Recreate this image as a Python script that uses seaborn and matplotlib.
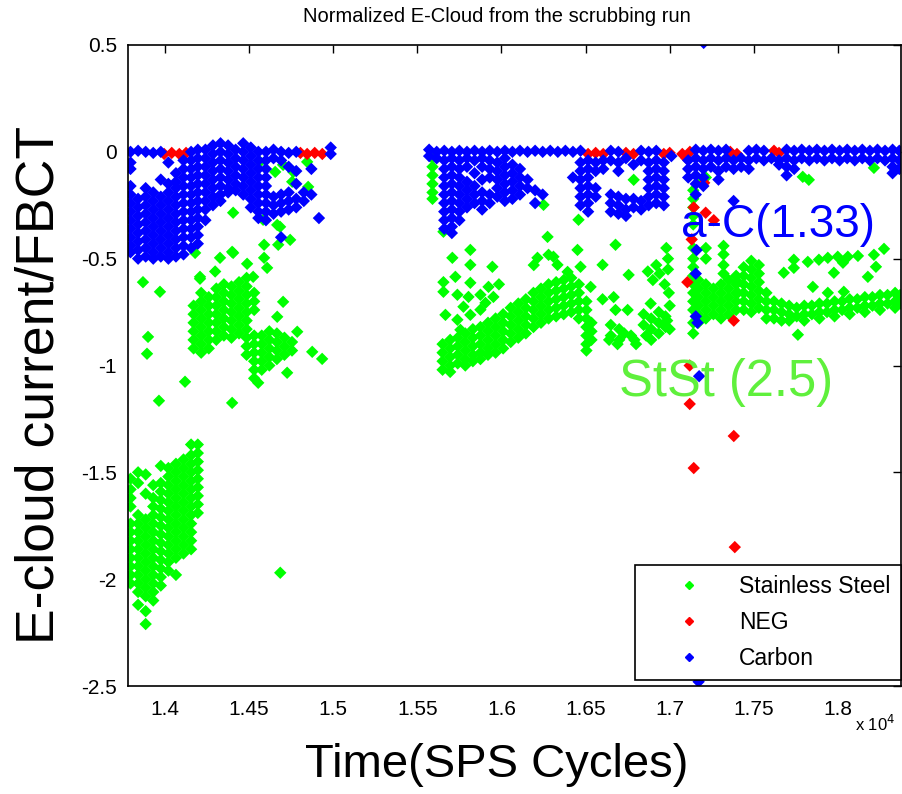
import matplotlib
matplotlib.use("Agg")
import matplotlib.pyplot as plt
from matplotlib.lines import Line2D
import seaborn as sns
import pandas as pd

# ---------------- data (SPS cycles, E-cloud current / FBCT) ----------------
series_names = ["Stainless Steel", "NEG", "Carbon"]
series_colors = ["#00ff00", "#ff0000", "#0000ff"]

x_ticks = [14000, 14500, 15000, 15500, 16000, 16500, 17000, 17500, 18000]
x_tick_labels = ["1.4", "1.45", "1.5", "1.55", "1.6", "1.65", "1.7", "1.75", "1.8"]
y_ticks = [0.5, 0, -0.5, -1, -1.5, -2, -2.5]
y_tick_labels = ["0.5", "0", "-0.5", "-1", "-1.5", "-2", "-2.5"]

# Stainless steel: lower-left cloud (columns: cycle -> values)
steel_low = [
    (13795, [-1.53, -1.58, -1.62, -1.66, -1.74, -1.78, -1.82, -1.86, -1.90, -1.94, -1.98, -2.02]),
    (13840, [-1.50, -1.55, -1.70, -1.74, -1.78, -1.82, -1.86, -1.90, -1.94, -1.98, -2.02, -2.06, -2.12]),
    (13885, [-1.51, -1.60, -1.72, -1.76, -1.80, -1.84, -1.88, -1.92, -1.96, -2.00, -2.04, -2.08, -2.15, -2.21]),
    (13930, [-1.56, -1.62, -1.66, -1.70, -1.74, -1.78, -1.82, -1.86, -1.90, -1.94, -1.98, -2.02, -2.06, -2.10]),
    (13975, [-1.47, -1.55, -1.59, -1.63, -1.67, -1.71, -1.75, -1.79, -1.83, -1.87, -1.91, -1.95, -1.99, -2.03]),
    (14020, [-1.48, -1.52, -1.56, -1.60, -1.64, -1.68, -1.72, -1.76, -1.80, -1.84, -1.88, -1.92, -1.96]),
    (14065, [-1.46, -1.50, -1.54, -1.58, -1.62, -1.66, -1.70, -1.74, -1.78, -1.82, -1.86, -1.90, -1.98]),
    (14110, [-1.44, -1.48, -1.52, -1.56, -1.60, -1.64, -1.68, -1.72, -1.76, -1.80, -1.84, -1.88]),
    (14155, [-1.37, -1.42, -1.46, -1.50, -1.54, -1.58, -1.62, -1.66, -1.70, -1.74, -1.78, -1.82, -1.86]),
    (14195, [-1.37, -1.41, -1.45, -1.49, -1.53, -1.57, -1.61, -1.65, -1.69]),
]
# Stainless steel: middle-left cloud
steel_mid = [
    (14170, [-0.72, -0.76, -0.80, -0.84, -0.88, -0.92]),
    (14215, [-0.66, -0.70, -0.74, -0.78, -0.82, -0.86, -0.90, -0.94]),
    (14260, [-0.68, -0.72, -0.76, -0.80, -0.84, -0.88, -0.92]),
    (14305, [-0.64, -0.68, -0.72, -0.76, -0.80, -0.84, -0.88]),
    (14350, [-0.62, -0.66, -0.70, -0.74, -0.78, -0.82, -0.86]),
    (14395, [-0.63, -0.67, -0.71, -0.75, -0.79, -0.83, -0.87]),
    (14440, [-0.61, -0.65, -0.69, -0.73, -0.77, -0.81, -0.85]),
    (14485, [-0.59, -0.63, -0.67, -0.71, -0.75, -0.79, -0.83, -0.87, -0.91, -0.95]),
    (14530, [-0.66, -0.70, -0.74, -0.86, -0.90, -0.94, -0.98, -1.02, -1.06]),
    (14575, [-0.86, -0.90, -0.94, -0.98, -1.02]),
    (14620, [-0.84, -0.88, -0.92, -0.96, -1.00]),
    (14665, [-0.85, -0.89, -0.93, -0.97]),
    (14710, [-0.87, -0.91, -0.95]),
    (14755, [-0.89, -0.93]),
]
steel_left_scatter = [
    (13869, -0.61), (13970, -0.655), (13899, -0.866), (13893, -0.945), (14119, -1.076),
    (13964, -1.165), (14399, -1.175), (14208, -0.594), (14298, -0.56), (14327, -0.496),
    (14405, -0.473), (14488, -0.524), (14589, -0.496), (14607, -0.543), (14702, -0.702),
    (14667, -0.772), (14786, -0.842), (14875, -0.936), (14934, -0.969), (14726, -1.034),
    (14554, -1.081), (14405, -0.285), (14583, -0.318), (14667, -0.342), (14589, -0.435),
    (14673, -0.435), (14399, -0.468), (14208, -0.585), (14524, -0.585), (14762, -0.094),
    (14702, -0.061), (14756, -0.14), (14851, -0.164), (14845, -0.047), (14655, -0.094),
    (14565, -0.047), (14179, -0.473), (14744, -0.412), (14684, -0.351), (14685, -1.97),
]
# Stainless steel: second run band
steel_strip = [(15590, [-0.03, -0.07, -0.11, -0.15, -0.19, -0.22])]
steel_band = [
    (15650, [-0.90, -0.94, -0.98, -1.02]),
    (15695, [-0.88, -0.92, -0.96, -1.00, -1.03]),
    (15740, [-0.87, -0.91, -0.95, -0.99]),
    (15785, [-0.85, -0.89, -0.93, -0.97, -1.00]),
    (15830, [-0.83, -0.87, -0.91, -0.95, -0.98]),
    (15875, [-0.82, -0.86, -0.90, -0.94, -0.97]),
    (15920, [-0.80, -0.84, -0.88, -0.92, -0.95]),
    (15965, [-0.78, -0.82, -0.86, -0.90, -0.94]),
    (16010, [-0.76, -0.80, -0.84, -0.88, -0.92]),
    (16055, [-0.73, -0.77, -0.81, -0.85, -0.89]),
    (16100, [-0.71, -0.75, -0.79, -0.83, -0.87]),
    (16145, [-0.69, -0.73, -0.77, -0.81, -0.85]),
    (16190, [-0.66, -0.70, -0.74, -0.78, -0.82]),
    (16235, [-0.64, -0.68, -0.72, -0.76, -0.80]),
    (16280, [-0.62, -0.66, -0.70, -0.74, -0.78]),
    (16325, [-0.61, -0.65, -0.69, -0.73, -0.77]),
    (16370, [-0.60, -0.64, -0.68, -0.72, -0.76]),
    (16415, [-0.59, -0.63, -0.67, -0.71, -0.75]),
    (16460, [-0.62, -0.66, -0.70, -0.74, -0.78]),
    (16505, [-0.70, -0.74, -0.78, -0.82, -0.86, -0.90, -0.93]),
    (16535, [-0.80, -0.84, -0.88]),
]
steel_band_scatter = [
    (15655, -0.61), (15726, -0.585), (15655, -0.655), (15738, -0.669), (15815, -0.613),
    (15804, -0.679), (15875, -0.669), (15923, -0.632), (15952, -0.679), (15905, -0.707),
    (15774, -0.725), (15667, -0.763), (15738, -0.786), (15815, -0.763), (15756, -0.833),
    (15875, -0.739), (15815, -0.459), (15708, -0.496), (15815, -0.529), (15946, -0.538),
    (16274, -0.398), (16280, -0.482), (16214, -0.496), (16309, -0.491), (16458, -0.318),
    (16452, -0.459), (16393, -0.562), (16333, -0.529), (16470, -0.538), (16530, -0.632),
    (16601, -0.529), (16678, -0.435), (16756, -0.576), (16786, -0.131), (16250, -0.248),
    (15655, -0.374), (15985, -0.62), (16192, -0.53),
    (16650, -0.81), (16650, -0.86), (16700, -0.83), (16700, -0.88), (16730, -0.85),
    (16690, -0.90), (16640, -0.88), (16770, -0.86), (16800, -0.90), (16790, -0.88),
    (16845, -0.76), (16845, -0.81), (16890, -0.78), (16890, -0.83), (16890, -0.88),
    (16935, -0.75), (16935, -0.80), (16935, -0.85), (16975, -0.77), (16975, -0.82),
    (16860, -0.86), (16870, -0.56), (16900, -0.60), (16940, -0.57), (16970, -0.62),
    (16920, -0.53), (16887, -0.71), (16750, -0.74), (16667, -0.68), (16601, -0.69),
    (16678, -0.74), (16990, -0.50), (16990, -0.55), (16995, -0.66), (17000, -0.72),
    (16985, -0.79), (17000, -0.83), (16980, -0.45),
]
# Stainless steel: third run
steel_right = [
    (17140, [-0.18, -0.22, -0.26, -0.30, -0.34, -0.45, -0.50, -0.54, -0.58, -0.62, -0.66, -0.70, -0.74, -0.80, -0.85]),
    (17170, [-0.60, -0.64, -0.68, -0.72, -0.76, -0.80]),
    (17215, [-0.45, -0.50, -0.62, -0.66, -0.70, -0.74, -0.78]),
    (17260, [-0.64, -0.68, -0.72, -0.76]),
    (17305, [-0.62, -0.66, -0.70, -0.74, -0.78]),
    (17350, [-0.60, -0.64, -0.68, -0.72, -0.76]),
    (17395, [-0.58, -0.62, -0.66, -0.70, -0.74]),
    (17440, [-0.54, -0.58, -0.62, -0.66, -0.70, -0.74]),
    (17485, [-0.51, -0.55, -0.59, -0.63, -0.67, -0.71, -0.75]),
    (17530, [-0.53, -0.57, -0.61, -0.65, -0.69, -0.73]),
    (17575, [-0.66, -0.70, -0.74, -0.78]),
    (17620, [-0.70, -0.74, -0.78]),
    (17665, [-0.71, -0.75, -0.79]),
    (17710, [-0.72, -0.76, -0.79]),
    (17755, [-0.73, -0.77]),
    (17800, [-0.72, -0.76, -0.79]),
    (17845, [-0.72, -0.76]),
    (17890, [-0.71, -0.75, -0.78]),
    (17935, [-0.71, -0.75]),
    (17980, [-0.70, -0.74, -0.77]),
    (18025, [-0.70, -0.74]),
    (18070, [-0.69, -0.73, -0.76]),
    (18115, [-0.69, -0.73]),
    (18160, [-0.68, -0.72, -0.75]),
    (18205, [-0.68, -0.72]),
    (18250, [-0.67, -0.71, -0.74]),
    (18295, [-0.67, -0.71]),
    (18340, [-0.66, -0.70, -0.73]),
    (18370, [-0.67, -0.71]),
    (17320, [-0.44, -0.48, -0.53, -0.57]),
]
steel_right_scatter = [
    (17405, -0.61), (17405, -0.66), (17738, -0.505), (17821, -0.515), (17887, -0.505),
    (17940, -0.496), (17999, -0.491), (18059, -0.491), (18119, -0.487), (18214, -0.482),
    (18274, -0.454), (17738, -0.543), (17976, -0.566), (18030, -0.519), (18226, -0.538),
    (18178, -0.585), (17851, -0.632), (17940, -0.66), (18035, -0.655), (17678, -0.566),
    (17762, -0.856), (17791, -0.117), (17827, -0.131), (18214, -0.075), (17180, -0.14),
    (17215, -0.12),
]

# NEG
neg_points = [
    (13995, -0.01), (14040, -0.005), (14085, -0.01), (14125, -0.005),
    (14805, -0.005), (14845, -0.01), (14890, -0.005), (14935, -0.01),
    (16515, -0.01), (16560, -0.005), (16605, -0.01), (16740, -0.005), (16785, -0.01),
    (16965, -0.01), (17000, -0.005), (17075, -0.01), (17100, -0.03), (17120, 0.0),
    (17360, 0.0), (17400, -0.01), (17620, 0.005), (17650, -0.005),
    (17105, -0.61), (17143, -0.26), (17214, -0.285), (17262, -0.32), (17131, -0.41),
    (17205, -0.145), (17381, -0.79), (17119, -1.0), (17119, -1.18), (17381, -1.33),
    (17143, -1.48), (17387, -1.85),
]

# Carbon
carbon_left = [
    (13795, [0, -0.05, -0.08, -0.16, -0.20, -0.24, -0.28, -0.32, -0.36, -0.40, -0.44, -0.47]),
    (13840, [0.005, -0.22, -0.26, -0.30, -0.34, -0.38, -0.42, -0.46, -0.50]),
    (13885, [0, -0.17, -0.21, -0.25, -0.29, -0.33, -0.37, -0.41, -0.45, -0.49]),
    (13930, [-0.005, -0.19, -0.23, -0.27, -0.31, -0.35, -0.39, -0.43, -0.47, -0.50]),
    (13975, [0, -0.13, -0.21, -0.25, -0.29, -0.33, -0.37, -0.41, -0.45, -0.49]),
    (14020, [-0.05, -0.15, -0.19, -0.23, -0.27, -0.31, -0.35, -0.39, -0.43, -0.47, -0.50]),
    (14065, [-0.10, -0.14, -0.17, -0.21, -0.25, -0.29, -0.33, -0.37, -0.41, -0.45, -0.49]),
    (14110, [-0.04, -0.08, -0.12, -0.16, -0.20, -0.24, -0.28, -0.32, -0.36, -0.40, -0.44, -0.48]),
    (14155, [0, -0.04, -0.08, -0.12, -0.16, -0.20, -0.24, -0.28, -0.32, -0.36, -0.40, -0.45]),
    (14195, [0.01, -0.03, -0.07, -0.11, -0.15, -0.19, -0.23, -0.27, -0.31, -0.35, -0.39, -0.43]),
    (14240, [0.01, -0.03, -0.07, -0.11, -0.15, -0.19, -0.23, -0.27, -0.32]),
    (14285, [0.03, -0.01, -0.05, -0.09, -0.13, -0.17, -0.21, -0.25]),
    (14330, [0.04, 0.0, -0.04, -0.08, -0.12, -0.16, -0.20, -0.23]),
    (14375, [0.03, -0.01, -0.05, -0.09, -0.13, -0.17, -0.19]),
    (14420, [0.01, -0.03, -0.07, -0.11, -0.15, -0.18]),
    (14465, [0.04, 0.0, -0.04, -0.08, -0.12, -0.16, -0.20]),
    (14510, [0.02, -0.02, -0.06, -0.10, -0.14, -0.18, -0.22, -0.26]),
    (14555, [0, -0.04, -0.08, -0.12, -0.16, -0.20, -0.24, -0.28, -0.31]),
    (14600, [0, -0.04, -0.08, -0.12, -0.16, -0.20, -0.24, -0.28, -0.32]),
    (14645, [0.01, -0.03, -0.21, -0.25, -0.29]),
    (14690, [0, -0.04, -0.20, -0.24, -0.28, -0.40]),
    (14735, [-0.005, -0.07, -0.19, -0.23, -0.27]),
    (14780, [0, -0.09, -0.15, -0.22, -0.26]),
    (14825, [-0.19, -0.23]),
    (14870, [-0.08, -0.20]),
    (14915, [-0.31]),
    (14985, [0.02, -0.01]),
]
carbon_mid = [
    (15570, [0.01, -0.02]),
    (15615, [0, -0.03]),
    (15660, [0.005, -0.04, -0.08, -0.12, -0.16, -0.20, -0.24, -0.28, -0.32, -0.36]),
    (15705, [0, -0.03, -0.07, -0.11, -0.15, -0.19, -0.23, -0.27, -0.31, -0.35, -0.38]),
    (15750, [0.005, -0.04, -0.08, -0.12, -0.16, -0.20, -0.24, -0.28, -0.32]),
    (15795, [0, -0.03, -0.07, -0.14, -0.18, -0.22, -0.26]),
    (15840, [0.005, -0.04, -0.10, -0.16, -0.20, -0.24]),
    (15885, [0, -0.03, -0.07, -0.13, -0.19, -0.23, -0.27]),
    (15930, [0.005, -0.04, -0.08, -0.12, -0.20, -0.24]),
    (15975, [0, -0.05, -0.09, -0.13, -0.17, -0.21]),
    (16020, [0.005, -0.03, -0.07, -0.11, -0.15, -0.19, -0.23]),
    (16065, [0, -0.06, -0.10, -0.14, -0.18, -0.22]),
    (16110, [0.005, -0.08, -0.12, -0.16, -0.20]),
    (16155, [0, -0.13, -0.17]),
    (16200, [0.005, -0.18, -0.24]),
    (16245, [0, -0.20]),
    (16290, [0.005]),
    (16335, [0]),
    (16380, [0.005]),
    (16425, [0, -0.12]),
    (16470, [0.005, -0.05, -0.09, -0.13, -0.17, -0.21, -0.25]),
    (16515, [-0.04, -0.08, -0.12, -0.16, -0.20, -0.24, -0.28]),
    (16560, [-0.05, -0.09, -0.17, -0.21]),
    (16605, [-0.04, -0.08]),
    (16650, [0.005, -0.04, -0.20, -0.24, -0.28]),
    (16695, [0, -0.05, -0.09, -0.21, -0.25, -0.29]),
    (16740, [-0.03, -0.22, -0.27, -0.30]),
    (16785, [-0.06, -0.22, -0.26]),
    (16830, [0.005, -0.04, -0.23, -0.27]),
    (16875, [0, -0.05, -0.09, -0.13, -0.17, -0.21, -0.25]),
    (16920, [0.005, -0.04, -0.08, -0.12, -0.16, -0.20, -0.24]),
    (16965, [-0.05, -0.09, -0.13, -0.17, -0.21, -0.25]),
    (17010, [-0.02]),
]
carbon_right = [
    (17110, [-0.04, -0.08, -0.12]),
    (17155, [0.01, -0.03, -0.07, -0.11, -0.15, -0.20]),
    (17200, [0.005, -0.04, -0.08, -0.12, -0.16]),
    (17245, [0.01, -0.03, -0.07]),
    (17290, [0.005, -0.04, -0.09, -0.13]),
    (17335, [0.01, -0.03, -0.07]),
    (17380, [-0.04, -0.08]),
    (17425, [-0.03, -0.07]),
    (17470, [0.005, -0.04, -0.08]),
    (17515, [0.01, -0.03]),
    (17560, [0.005, -0.04]),
    (17605, [-0.03]),
    (17650, [-0.04, -0.06]),
    (17695, [0.01, -0.03, -0.07, -0.11]),
    (17740, [0.005, -0.04, -0.08]),
    (17785, [0.01, -0.03]),
    (17830, [0.005, -0.04]),
    (17875, [0.01, -0.03]),
    (17920, [0.005, -0.04]),
    (17965, [0.01, -0.03]),
    (18010, [0.005, -0.04]),
    (18055, [0.01, -0.03]),
    (18100, [0.005, -0.04]),
    (18145, [0.01, -0.03]),
    (18190, [0.005, -0.04]),
    (18235, [0.01, -0.03]),
    (18280, [0.005, -0.04]),
    (18325, [0.01, -0.03, -0.07, -0.10]),
    (18365, [0.005, -0.04, -0.08]),
]
carbon_outliers = [
    (17160, -0.46), (17155, -0.57), (17155, -0.77), (17165, -0.80), (17380, -0.23),
    (17175, -1.05), (17202, 0.51), (17172, -2.48),
]

# ---------------- build table ----------------
def columns_to_points(cols):
    return [(x, y) for x, ys in cols for y in ys]

steel_pts = (columns_to_points(steel_low) + columns_to_points(steel_mid) + steel_left_scatter
             + columns_to_points(steel_strip) + columns_to_points(steel_band) + steel_band_scatter
             + columns_to_points(steel_right) + steel_right_scatter)
carbon_pts = (columns_to_points(carbon_left) + columns_to_points(carbon_mid)
              + columns_to_points(carbon_right) + carbon_outliers)

rows = []
for name, pts in zip(series_names, [steel_pts, neg_points, carbon_pts]):
    for x, y in pts:
        rows.append({"cycle": x, "ratio": y, "material": name})
df = pd.DataFrame(rows)

# ---------------- plot ----------------
sns.set_style("white")
plt.rcParams["font.family"] = ["Liberation Sans", "DejaVu Sans"]
for key in ["text.color", "axes.labelcolor", "xtick.color", "ytick.color", "axes.edgecolor"]:
    plt.rcParams[key] = "black"

fig = plt.figure(figsize=(9.03, 7.94), dpi=100)
ax = fig.add_axes([128 / 903, 1 - 686 / 794, (901 - 128) / 903, (686 - 45) / 794])

palette = dict(zip(series_names, series_colors))
sns.scatterplot(data=df, x="cycle", y="ratio", hue="material", hue_order=series_names,
                palette=palette, marker="D", s=40, linewidth=0, legend=False, ax=ax)

ax.set_xlim(13780, 18375)
ax.set_ylim(-2.5, 0.5)
ax.set_xticks(x_ticks)
ax.set_xticklabels(x_tick_labels)
ax.set_yticks(y_ticks)
ax.set_yticklabels(y_tick_labels)
ax.set_xlabel("")
ax.set_ylabel("")
ax.tick_params(axis="both", direction="in", length=6, width=1, labelsize=15,
               top=True, right=True, color="black", labelcolor="black")
ax.tick_params(axis="x", pad=10)
ax.tick_params(axis="y", pad=8)
for sp in ax.spines.values():
    sp.set_visible(True)
    sp.set_color("black")
    sp.set_linewidth(1.2)

ax.text(17643, -0.342, "a-C(1.33)", color="#0000ff", fontsize=33, ha="center", va="center")
ax.text(17336, -1.081, "StSt (2.5)", color="#5ff03c", fontsize=36.5, ha="center", va="center")

handles = [Line2D([], [], marker="D", color=c, linestyle="None", markersize=4) for c in series_colors]
leg = ax.legend(handles, series_names, loc="lower right", bbox_to_anchor=(1.0, 0.009),
                fontsize=16.5, frameon=True, fancybox=False, framealpha=1, edgecolor="black",
                handlelength=3.8, handletextpad=0.3, labelspacing=0.55, borderpad=0.46,
                borderaxespad=0.0)
leg.get_frame().set_linewidth(1.2)
for t in leg.get_texts():
    t.set_color("black")

fig.text(497 / 903, 1 - 17 / 794, "Normalized E-Cloud from the scrubbing run",
         ha="center", va="center", fontsize=14.5)
fig.text(497 / 903, 1 - 765 / 794, "Time(SPS Cycles)", ha="center", va="center", fontsize=34)
fig.text(40 / 903, 1 - 385 / 794, "E-cloud current/FBCT", ha="center", va="center",
         rotation=90, fontsize=38.5)
fig.text(875 / 903, 1 - 724 / 794, "x 10$^4$", ha="center", va="center", fontsize=12)

fig.savefig("out.png", dpi=100, facecolor="white")
